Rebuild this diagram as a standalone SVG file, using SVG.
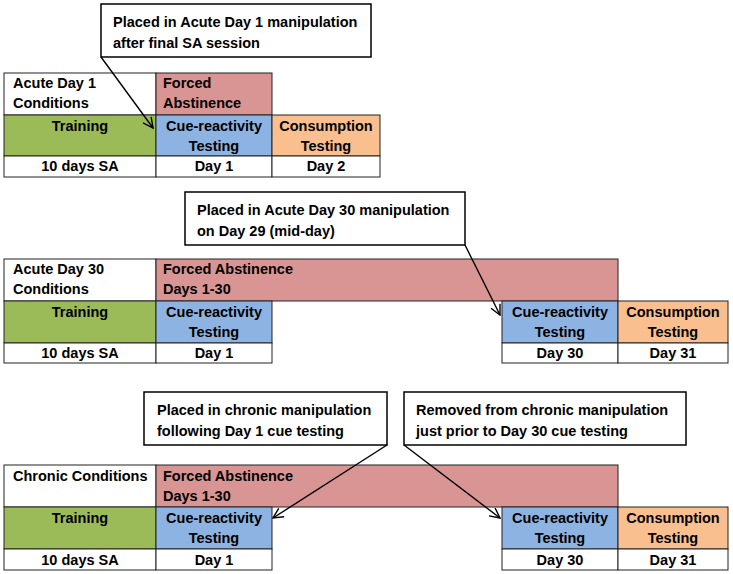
<svg xmlns="http://www.w3.org/2000/svg" width="733" height="574" viewBox="0 0 733 574">
<style>
text{font-family:"Liberation Sans",Arial,sans-serif;font-weight:bold;font-size:14.5px;fill:#000}
.c{text-anchor:middle}
.cell{stroke:#222;stroke-width:1}
.w{fill:#fff}
.fa{fill:#D99594}
.tr{fill:#9BBB59}
.cu{fill:#8DB3E2}
.co{fill:#FABF8F}
.call{fill:#fff;stroke:#000;stroke-width:1.5}
.arr{stroke:#000;stroke-width:1.4;fill:none;marker-end:url(#ah)}
</style>
<defs>
<marker id="ah" viewBox="0 0 12 12" refX="11" refY="6" markerWidth="12" markerHeight="12" markerUnits="userSpaceOnUse" orient="auto">
<path d="M1,1 L11,6 L1,11" fill="none" stroke="#000" stroke-width="1.4"/>
</marker>
</defs>
<rect width="733" height="574" fill="#fff"/>

<!-- Table 1 -->
<g id="cond1"><rect class="cell w" x="4" y="73" width="152" height="42"/><text x="13" y="88">Acute Day 1</text><text x="13" y="108">Conditions</text></g>
<g id="fa1"><rect class="cell fa" x="156" y="73" width="116" height="42"/><text x="163" y="88">Forced</text><text x="163" y="108">Abstinence</text></g>
<g id="train1"><rect class="cell tr" x="4" y="115" width="152" height="41"/><text class="c" x="80" y="131">Training</text></g>
<g id="cue1"><rect class="cell cu" x="156" y="115" width="116" height="41"/><text class="c" x="214" y="131">Cue-reactivity</text><text class="c" x="214" y="151">Testing</text></g>
<g id="cons1"><rect class="cell co" x="272" y="115" width="108" height="41"/><text class="c" x="326" y="131">Consumption</text><text class="c" x="326" y="151">Testing</text></g>
<g id="sa1"><rect class="cell w" x="4" y="156" width="152" height="21"/><text class="c" x="80" y="171">10 days SA</text></g>
<g id="day1a"><rect class="cell w" x="156" y="156" width="116" height="21"/><text class="c" x="214" y="171">Day 1</text></g>
<g id="day2a"><rect class="cell w" x="272" y="156" width="108" height="21"/><text class="c" x="326" y="171">Day 2</text></g>

<!-- Table 2 -->
<g id="cond2"><rect class="cell w" x="4" y="259" width="152" height="42"/><text x="13" y="274">Acute Day 30</text><text x="13" y="294">Conditions</text></g>
<g id="fa2"><rect class="cell fa" x="156" y="259" width="462" height="42"/><text x="163" y="274">Forced Abstinence</text><text x="163" y="294">Days 1-30</text></g>
<g id="train2"><rect class="cell tr" x="4" y="301" width="152" height="42"/><text class="c" x="80" y="317">Training</text></g>
<g id="cue2a"><rect class="cell cu" x="156" y="301" width="116" height="42"/><text class="c" x="214" y="317">Cue-reactivity</text><text class="c" x="214" y="337">Testing</text></g>
<g id="cue2b"><rect class="cell cu" x="502" y="301" width="116" height="42"/><text class="c" x="560" y="317">Cue-reactivity</text><text class="c" x="560" y="337">Testing</text></g>
<g id="cons2"><rect class="cell co" x="618" y="301" width="110" height="42"/><text class="c" x="673" y="317">Consumption</text><text class="c" x="673" y="337">Testing</text></g>
<g id="sa2"><rect class="cell w" x="4" y="343" width="152" height="20"/><text class="c" x="80" y="358">10 days SA</text></g>
<g id="day1b"><rect class="cell w" x="156" y="343" width="116" height="20"/><text class="c" x="214" y="358">Day 1</text></g>
<g id="day30b"><rect class="cell w" x="502" y="343" width="116" height="20"/><text class="c" x="560" y="358">Day 30</text></g>
<g id="day31b"><rect class="cell w" x="618" y="343" width="110" height="20"/><text class="c" x="673" y="358">Day 31</text></g>

<!-- Table 3 -->
<g id="cond3"><rect class="cell w" x="4" y="465" width="152" height="42"/><text x="13" y="481">Chronic Conditions</text></g>
<g id="fa3"><rect class="cell fa" x="156" y="465" width="462" height="42"/><text x="163" y="481">Forced Abstinence</text><text x="163" y="501">Days 1-30</text></g>
<g id="train3"><rect class="cell tr" x="4" y="507" width="152" height="42"/><text class="c" x="80" y="523">Training</text></g>
<g id="cue3a"><rect class="cell cu" x="156" y="507" width="116" height="42"/><text class="c" x="214" y="523">Cue-reactivity</text><text class="c" x="214" y="543">Testing</text></g>
<g id="cue3b"><rect class="cell cu" x="502" y="507" width="116" height="42"/><text class="c" x="560" y="523">Cue-reactivity</text><text class="c" x="560" y="543">Testing</text></g>
<g id="cons3"><rect class="cell co" x="618" y="507" width="110" height="42"/><text class="c" x="673" y="523">Consumption</text><text class="c" x="673" y="543">Testing</text></g>
<g id="sa3"><rect class="cell w" x="4" y="549" width="152" height="21"/><text class="c" x="80" y="565">10 days SA</text></g>
<g id="day1c"><rect class="cell w" x="156" y="549" width="116" height="21"/><text class="c" x="214" y="565">Day 1</text></g>
<g id="day30c"><rect class="cell w" x="502" y="549" width="116" height="21"/><text class="c" x="560" y="565">Day 30</text></g>
<g id="day31c"><rect class="cell w" x="618" y="549" width="110" height="21"/><text class="c" x="673" y="565">Day 31</text></g>

<!-- Callouts -->
<g id="callout1"><rect class="call" x="101" y="4" width="270" height="53"/><text x="113" y="27">Placed in Acute Day 1 manipulation</text><text x="113" y="48">after final SA session</text></g>
<g id="callout2"><rect class="call" x="185" y="192" width="280" height="53"/><text x="197" y="215">Placed in Acute Day 30 manipulation</text><text x="197" y="236">on Day 29 (mid-day)</text></g>
<g id="callout3"><rect class="call" x="144" y="392" width="243" height="53"/><text x="157" y="415">Placed in chronic manipulation</text><text x="157" y="436">following Day 1 cue testing</text></g>
<g id="callout4"><rect class="call" x="404" y="392" width="282" height="53"/><text x="416" y="415">Removed from chronic manipulation</text><text x="416" y="436">just prior to Day 30 cue testing</text></g>

<g id="connectors">
<line class="arr" x1="101" y1="57" x2="153" y2="128"/>
<line class="arr" x1="465" y1="245" x2="500" y2="315"/>
<line class="arr" x1="387" y1="445" x2="273" y2="518"/>
<line class="arr" x1="404" y1="445" x2="500" y2="518"/>
</g>
</svg>
